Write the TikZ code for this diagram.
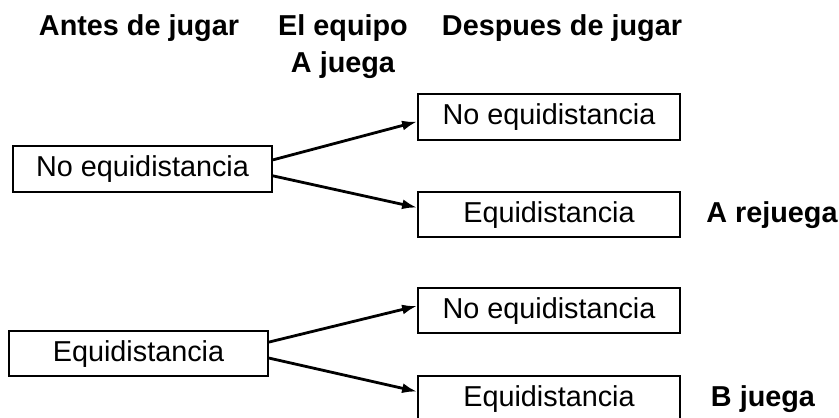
\documentclass[tikz,border=0pt]{standalone}
\usepackage{fontspec}
\setmainfont{Liberation Sans}
\usetikzlibrary{arrows.meta}

\tikzset{
caja/.style={draw,line width=1.8pt,inner sep=0pt,minimum height=45.5pt,text height=21pt,text depth=6pt},
titulo/.style={font=\fontsize{28.8}{37}\selectfont\bfseries,align=center,anchor=base},
nota/.style={font=\fontsize{28.8}{37}\selectfont\bfseries,text height=21pt,text depth=6pt}
}

\begin{document}
\begin{tikzpicture}
[x=1pt,y=-1pt,font=\fontsize{28.8}{37}\selectfont]
\useasboundingbox (0,0) rectangle (839,418);

\node[titulo] (t1) at (139,35) {Antes de jugar};
\node[titulo] (t2) at (343,72) {El equipo\\A juega};
\node[titulo] (t3) at (562,35) {Despues de jugar};

\node[caja,minimum width=259pt] (v1) at (142.5,169) {No equidistancia};
\node[caja,minimum width=262pt] (v2) at (549,117) {No equidistancia};
\node[caja,minimum width=262pt] (v3) at (549,214.5) {Equidistancia};
\node[nota] (r1) at (772,214.5) {A rejuega};

\node[caja,minimum width=259pt] (v4) at (138.5,353.5) {Equidistancia};
\node[caja,minimum width=262pt] (v5) at (549,310.5) {No equidistancia};
\node[caja,minimum width=262pt] (v6) at (549,398.5) {Equidistancia};
\node[nota] (r2) at (763,398.5) {B juega};

\foreach \from/\to in {v1.4.9/v2.182.6,v1.-3.5/v3.177.2,v4.5.5/v5.178.9,v4.-2.4/v6.177.6}
\draw[line width=2.8pt,-{Latex[length=15pt,width=10pt]}] (\from) -- (\to);
\end{tikzpicture}
\end{document}
